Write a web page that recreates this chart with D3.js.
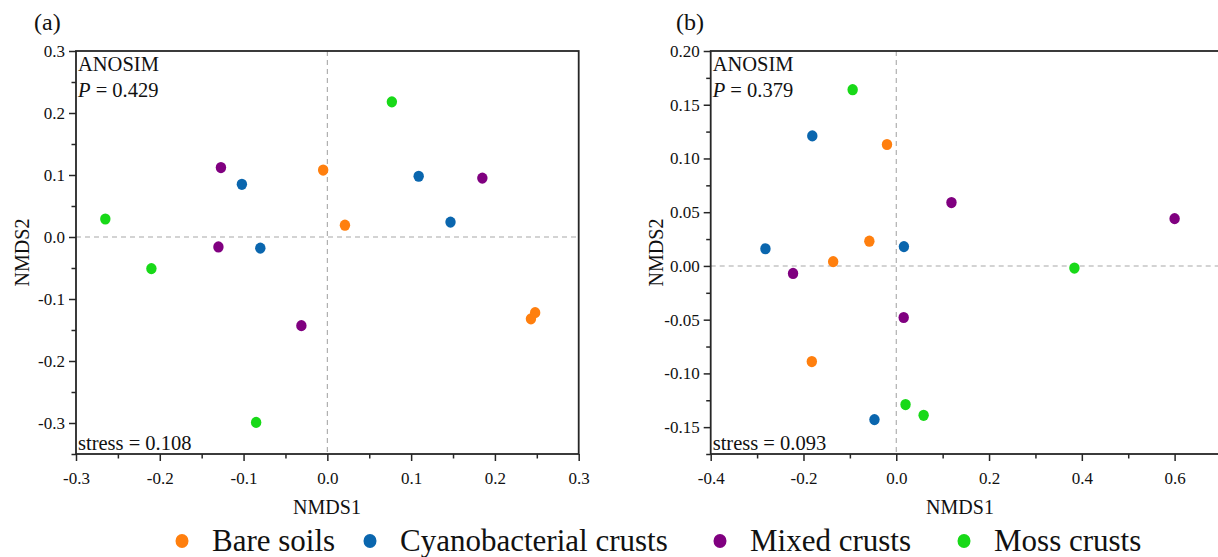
<!DOCTYPE html>
<html><head><meta charset="utf-8">
<script src="https://cdn.jsdelivr.net/npm/d3@7/dist/d3.min.js"></script>
<style>
body{margin:0;background:#fff}
svg{display:block}
svg text{font-family:"Liberation Serif","Times New Roman",serif !important;fill:#111}
</style>
</head><body>
<svg id="chart" width="1218" height="557" font-family="Liberation Serif, Times New Roman, serif"></svg>
<script>
// ---------- data ----------
const groups = ["Bare soils", "Cyanobacterial crusts", "Mixed crusts", "Moss crusts"];
const groupColors = ["#ff7f0e", "#0a66ae", "#800080", "#18d918"];

// Panel (a)
const aGroup = [0,0,0,0, 1,1,1,1, 2,2,2,2, 3,3,3,3];
const aX = [-0.005, 0.021, 0.243, 0.248,  -0.102, 0.109, 0.147, -0.080,  -0.127, 0.185, -0.130, -0.031,  -0.265, -0.210, 0.077, -0.085];
const aY = [0.108, 0.019, -0.132, -0.122,  0.085, 0.098, 0.024, -0.018,  0.112, 0.095, -0.016, -0.143,  0.029, -0.051, 0.218, -0.299];
const aXTicks = [-0.3, -0.2, -0.1, 0.0, 0.1, 0.2, 0.3];
const aYTicks = [-0.3, -0.2, -0.1, 0.0, 0.1, 0.2, 0.3];
const aXTickLabels = ["-0.3", "-0.2", "-0.1", "0.0", "0.1", "0.2", "0.3"];
const aYTickLabels = ["-0.3", "-0.2", "-0.1", "0.0", "0.1", "0.2", "0.3"];
const aP = "0.429", aStress = "0.108";

// Panel (b)
const bGroup = [0,0,0,0, 1,1,1,1, 2,2,2,2, 3,3,3,3];
const bX = [-0.020, -0.058, -0.136, -0.182,  -0.181, -0.282, 0.0165, -0.047,  0.119, 0.600, -0.2225, 0.016,  -0.094, 0.384, 0.020, 0.059];
const bY = [0.113, 0.023, 0.004, -0.089,  0.121, 0.016, 0.018, -0.143,  0.059, 0.044, -0.007, -0.048,  0.164, -0.002, -0.129, -0.139];
const bXTicks = [-0.4, -0.2, 0.0, 0.2, 0.4, 0.6];
const bYTicks = [-0.15, -0.10, -0.05, 0.00, 0.05, 0.10, 0.15, 0.20];
const bXTickLabels = ["-0.4", "-0.2", "0.0", "0.2", "0.4", "0.6"];
const bYTickLabels = ["-0.15", "-0.10", "-0.05", "0.00", "0.05", "0.10", "0.15", "0.20"];
const bP = "0.379", bStress = "0.093";

// ---------- drawing ----------
const FONT = '"Liberation Serif", "Times New Roman", serif';
const svg = d3.select("#chart");

function range(a, b, step) {
  const out = [];
  const n = Math.round((b - a) / step);
  for (let i = 0; i <= n; i++) out.push(+(a + i * step).toFixed(6));
  return out;
}

function panel(cfg) {
  const g = svg.append("g").attr("font-family", FONT);
  const x = d3.scaleLinear().domain(cfg.xDomain).range([cfg.left, cfg.right]);
  const y = d3.scaleLinear().domain(cfg.yDomain).range([cfg.bottom, cfg.top]);

  const xMinor = range(cfg.xDomain[0], cfg.xDomain[1], cfg.xMinorStep).filter(v => !cfg.xTicks.some(t => Math.abs(t - v) < 1e-9));
  const yMinor = range(cfg.yDomain[0], cfg.yDomain[1], cfg.yMinorStep).filter(v => !cfg.yTicks.some(t => Math.abs(t - v) < 1e-9));

  const gxMinor = g.append("g").attr("transform", `translate(0,${cfg.bottom})`)
    .call(d3.axisBottom(x).tickValues(xMinor).tickFormat("").tickSizeInner(4.5).tickSizeOuter(0));
  const gyMinor = g.append("g").attr("transform", `translate(${cfg.left},0)`)
    .call(d3.axisLeft(y).tickValues(yMinor).tickFormat("").tickSizeInner(4.5).tickSizeOuter(0));

  const gx = g.append("g").attr("transform", `translate(0,${cfg.bottom})`)
    .call(d3.axisBottom(x).tickValues(cfg.xTicks).tickFormat((d, i) => cfg.xLabels[i]).tickSizeInner(7).tickSizeOuter(0).tickPadding(11));
  const gy = g.append("g").attr("transform", `translate(${cfg.left},0)`)
    .call(d3.axisLeft(y).tickValues(cfg.yTicks).tickFormat((d, i) => cfg.yLabels[i]).tickSizeInner(7).tickSizeOuter(0).tickPadding(4));

  [gxMinor, gyMinor, gx, gy].forEach(a => {
    a.attr("font-family", FONT).attr("font-size", 17);
    a.select(".domain").remove();
    a.selectAll(".tick line").attr("stroke", "#262626").attr("stroke-width", 1.5);
    a.selectAll(".tick text").attr("font-size", 17).attr("fill", "#111").attr("font-family", FONT);
  });

  // zero dashed lines
  g.append("line").attr("x1", x(0)).attr("x2", x(0)).attr("y1", cfg.top).attr("y2", cfg.bottom)
    .attr("stroke", "#a8a8a8").attr("stroke-width", 1.1).attr("stroke-dasharray", "5,4");
  g.append("line").attr("x1", cfg.left).attr("x2", cfg.right).attr("y1", y(0)).attr("y2", y(0))
    .attr("stroke", "#a8a8a8").attr("stroke-width", 1.1).attr("stroke-dasharray", "5,4");

  // frame
  g.append("rect").attr("x", cfg.left).attr("y", cfg.top)
    .attr("width", cfg.right - cfg.left).attr("height", cfg.bottom - cfg.top)
    .attr("fill", "none").attr("stroke", "#262626").attr("stroke-width", 1.8);

  // points
  g.append("g").selectAll("ellipse").data(cfg.xs.map((v, i) => ({x: v, y: cfg.ys[i], g: cfg.grp[i]})))
    .join("ellipse")
    .attr("cx", d => x(d.x)).attr("cy", d => y(d.y))
    .attr("rx", 5.2).attr("ry", 5.6)
    .attr("fill", d => groupColors[d.g]);

  // annotations
  g.append("text").attr("x", cfg.left + 2).attr("y", 71).attr("font-size", 20.5).text("ANOSIM");
  const pt = g.append("text").attr("x", cfg.left + 2).attr("y", 97).attr("font-size", 20.5);
  pt.append("tspan").attr("font-style", "italic").text("P");
  pt.append("tspan").text(" = " + cfg.p);
  g.append("text").attr("x", cfg.left + 2).attr("y", 450).attr("font-size", 20.5).text("stress = " + cfg.stress);

  // axis titles
  g.append("text").attr("x", cfg.xTitleX).attr("y", 514).attr("text-anchor", "middle")
    .attr("font-size", 20).text("NMDS1");
  g.append("text").attr("transform", `translate(${cfg.yTitleX},${(cfg.top + cfg.bottom) / 2}) rotate(-90)`)
    .attr("text-anchor", "middle").attr("dominant-baseline", "central").attr("font-size", 20).text("NMDS2");

  // panel letter
  g.append("text").attr("x", cfg.letterX).attr("y", 30).attr("font-size", 24).text(cfg.letter);
}

panel({
  left: 76, right: 578.7, top: 51, bottom: 454, xTitleX: 327,
  xDomain: [-0.3, 0.3], yDomain: [-0.35, 0.3],
  xTicks: aXTicks, yTicks: aYTicks, xLabels: aXTickLabels, yLabels: aYTickLabels,
  xMinorStep: 0.05, yMinorStep: 0.05,
  xs: aX, ys: aY, grp: aGroup, p: aP, stress: aStress,
  yTitleX: 22, letter: "(a)", letterX: 34
});

panel({
  left: 710.7, right: 1221, top: 51, bottom: 454, xTitleX: 960,
  xDomain: [-0.4, 0.7], yDomain: [-0.175, 0.2],
  xTicks: bXTicks, yTicks: bYTicks, xLabels: bXTickLabels, yLabels: bYTickLabels,
  xMinorStep: 0.1, yMinorStep: 0.025,
  xs: bX, ys: bY, grp: bGroup, p: bP, stress: bStress,
  yTitleX: 656, letter: "(b)", letterX: 676
});

// legend
const legendDotX = [182, 370, 720, 964];
const legend = svg.append("g").attr("font-family", FONT);
groups.forEach((name, i) => {
  legend.append("ellipse").attr("cx", legendDotX[i]).attr("cy", 541).attr("rx", 6.5).attr("ry", 7)
    .attr("fill", groupColors[i]);
  legend.append("text").attr("x", legendDotX[i] + 30).attr("y", 551).attr("font-size", 31).text(name);
});
</script>
</body></html>
